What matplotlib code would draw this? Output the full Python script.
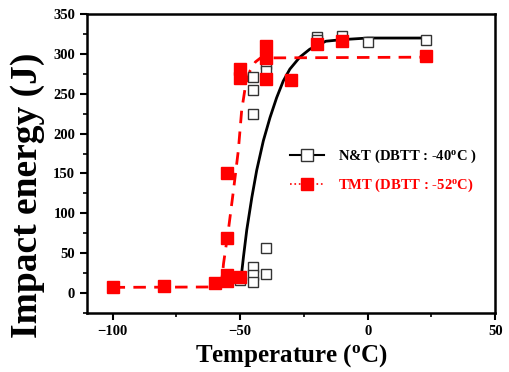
import matplotlib
matplotlib.use('Agg')

import matplotlib.pyplot as plt
import matplotlib.lines as mlines
from matplotlib.ticker import MultipleLocator

# N&T measured points (open squares)
nt_temp = [-50, -45, -45, -45, -45, -45, -45, -40, -40, -40, -40, -20, -20, -10, 0, 23]
nt_energy = [16, 271, 255, 225, 33, 22, 14, 288, 278, 57, 24, 321, 317, 323, 315, 318]

# TMT measured points (filled red squares)
tmt_temp = [-100, -80, -60, -55, -55, -55, -55, -50, -50, -50, -40, -40, -40, -30, -20, -10, 23]
tmt_energy = [7, 9, 12, 15, 22, 69, 150, 20, 281, 270, 310, 295, 269, 267, 312, 316, 298]

# fitted curves
nt_fit_temp = [-50, -49.4, -48.7, -47.4, -45.4, -43.5, -40.9, -38.3, -35.7, -33.1, -30.5,
               -26.6, -22.7, -16.4, -10, 0, 23]
nt_fit_energy = [17, 25, 45, 79, 120, 154, 191, 220, 245, 266, 281, 296, 306, 316, 318, 320, 320]

tmt_fit_temp = [-100, -60, -58, -57, -56.5, -54.6, -52.6, -50.7, -49.4, -48, -46.1, -44,
                -42, 23]
tmt_fit_energy = [7, 7.5, 10, 20, 37, 79, 129, 179, 229, 258, 279, 290, 295, 296]

plt.rcParams['font.family'] = 'Liberation Serif'
plt.rcParams['font.weight'] = 'bold'
plt.rcParams['mathtext.fontset'] = 'custom'
plt.rcParams['mathtext.rm'] = 'Liberation Serif:bold'
plt.rcParams['mathtext.it'] = 'Liberation Serif:bold'
plt.rcParams['mathtext.bf'] = 'Liberation Serif:bold'

fig = plt.figure(figsize=(5.09, 3.72), dpi=100)
ax = fig.add_axes([0.171, 0.159, 0.802, 0.803])

ax.plot(nt_fit_temp, nt_fit_energy, color='black', lw=2)
ax.plot(tmt_fit_temp, tmt_fit_energy, color='red', lw=2, dashes=(4.5, 3))

ax.plot(nt_temp, nt_energy, ls='none', marker='s', markersize=7,
        markerfacecolor='white', markeredgecolor='#333333', markeredgewidth=1)
ax.plot(tmt_temp, tmt_energy, ls='none', marker='s', markersize=8.5,
        markerfacecolor='red', markeredgecolor='red')

ax.set_xlim(-110, 50)
ax.set_ylim(-25, 350)
ax.xaxis.set_major_locator(MultipleLocator(50))
ax.xaxis.set_minor_locator(MultipleLocator(25))
ax.yaxis.set_major_locator(MultipleLocator(50))
ax.yaxis.set_minor_locator(MultipleLocator(25))
ax.tick_params(which='major', direction='out', length=5, width=1.5, labelsize=10.5)
ax.tick_params(which='minor', direction='out', length=3, width=1.2)
for s in ax.spines.values():
    s.set_linewidth(1.8)

ax.set_xlabel('Temperature ($^{\\mathrm{o}}$C)', fontsize=18, fontweight='bold', labelpad=3)
ax.set_ylabel('Impact energy (J)', fontsize=27, fontweight='bold')
ax.yaxis.set_label_coords(-0.104, 0.393)

nt_handle = mlines.Line2D([], [], color='black', lw=1.5, marker='s', markersize=9,
                          markerfacecolor='white', markeredgecolor='#333333')
tmt_handle = mlines.Line2D([], [], color='red', lw=1.2, ls=':', marker='s', markersize=9,
                           markerfacecolor='red', markeredgecolor='red')
leg = ax.legend([nt_handle, tmt_handle],
                ['N&T (DBTT : -40$^{\\mathrm{o}}$C )', 'TMT (DBTT : -52$^{\\mathrm{o}}$C)'],
                loc='center left', bbox_to_anchor=(0.465, 0.475), frameon=False,
                fontsize=10.5, handlelength=2.3, handletextpad=1.0, labelspacing=0.8)
leg.get_texts()[1].set_color('red')

fig.savefig('out.png', dpi=100)
